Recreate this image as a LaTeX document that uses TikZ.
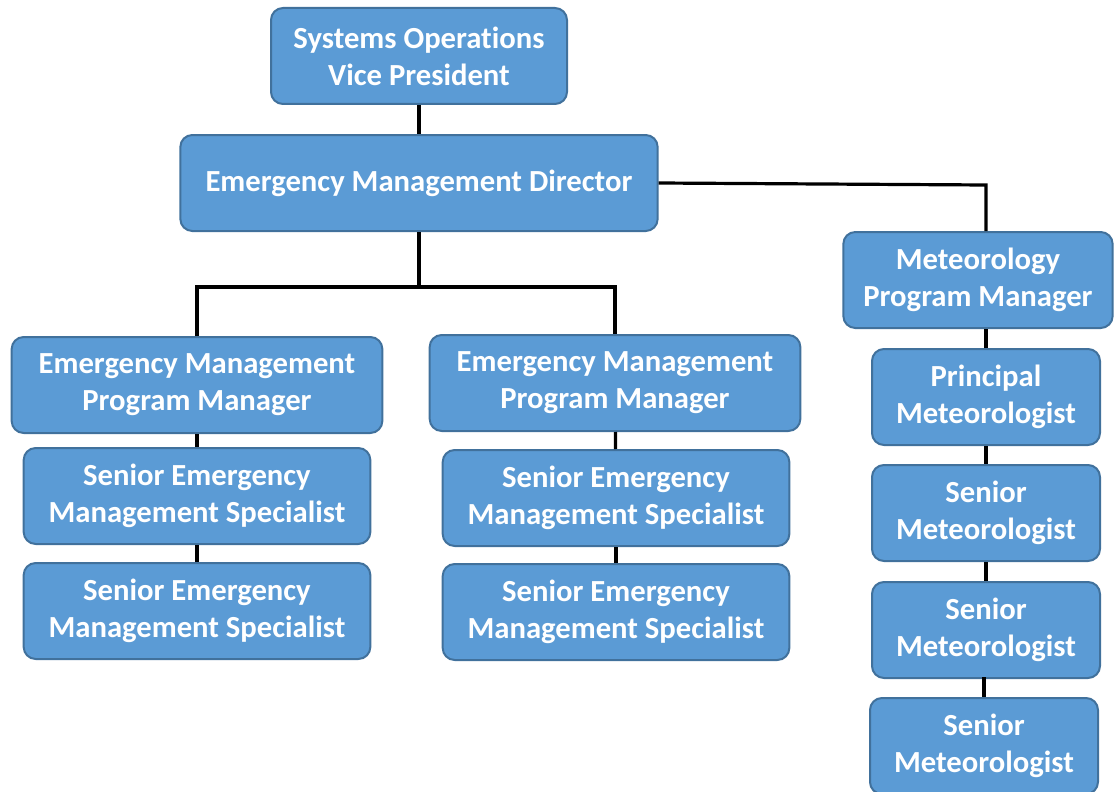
\documentclass[tikz,border=0pt]{standalone}
\usepackage{fontspec}
\setmainfont{Carlito}[RawFeature=-liga]
\definecolor{boxblue}{HTML}{5B9BD5}
\definecolor{boxline}{HTML}{41719C}
\tikzset{
  post/.style={draw=boxline, line width=1.5pt, fill=boxblue, rounded corners=9pt,
    text=white, font=\fontsize{23}{27.8}\selectfont\bfseries, align=center,
    minimum height=72pt, inner sep=2pt},
  link/.style={line width=2.4pt, black}
}
\begin{document}
\begin{tikzpicture}[x=0.75pt,y=-0.75pt]
\useasboundingbox (0,0) rectangle (1114,792);

\node[post, minimum width=222pt] (vp) at (419,56) {Systems Operations\\Vice President};
\node[post, minimum width=358pt] (dir) at (419,183) {Emergency Management Director};

\node[post, minimum width=278pt] (empmA) at (197,385) {Emergency Management\\Program Manager};
\node[post, minimum width=260pt] (semsA) at (197,496) {Senior Emergency\\Management Specialist};
\node[post, minimum width=260pt] (semsB) at (197,611) {Senior Emergency\\Management Specialist};

\node[post, minimum width=278pt] (empmB) at (615,383) {Emergency Management\\Program Manager};
\node[post, minimum width=260pt] (semsC) at (616,498) {Senior Emergency\\Management Specialist};
\node[post, minimum width=260pt] (semsD) at (616,612) {Senior Emergency\\Management Specialist};

\node[post, minimum width=202pt] (metpm) at (978,280) {Meteorology\\Program Manager};
\node[post, minimum width=171pt] (princ) at (986,397) {Principal\\Meteorologist};
\node[post, minimum width=171pt] (senA) at (986,513) {Senior\\Meteorologist};
\node[post, minimum width=171pt] (senB) at (986,630) {Senior\\Meteorologist};
\node[post, minimum width=171pt] (senC) at (984,746) {Senior\\Meteorologist};

\coordinate (split) at (419,287);
\coordinate (metjoin) at (986,185);

\draw[link] (vp) -- (dir);
\draw[link] (dir) -- (split);
\draw[link] (empmA.north) |- (split) -| (empmB.north);
\draw[link] (dir.east) -- (metjoin) -- (metjoin |- metpm.north);

\draw[link] (empmA) -- (semsA);
\draw[link] (semsA) -- (semsB);
\draw[link] (empmB) -- (semsC);
\draw[link] (semsC) -- (semsD);

\draw[link] (princ.north) -- (princ.north |- metpm.south);
\draw[link] (princ) -- (senA);
\draw[link] (senA) -- (senB);
\draw[link] (senB.south) -- (senB.south -| senC.north) -- (senC.north);
\end{tikzpicture}
\end{document}
